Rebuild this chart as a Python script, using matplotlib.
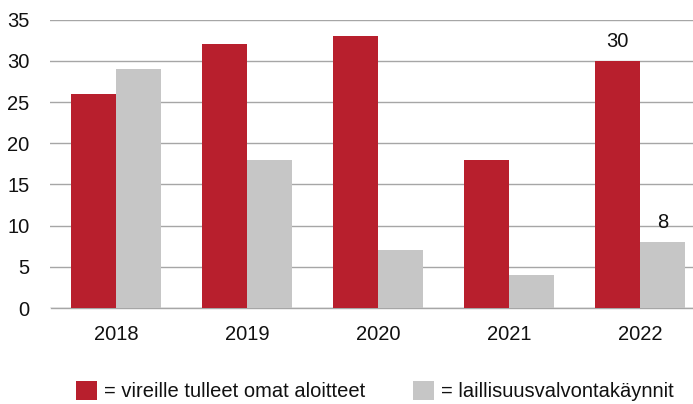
import matplotlib
matplotlib.use("Agg")
import matplotlib.pyplot as plt
import numpy as np
from matplotlib.patches import Patch

years = ["2018", "2019", "2020", "2021", "2022"]
omat = [26, 32, 33, 18, 30]
valvonta = [29, 18, 7, 4, 8]
label_omat = ["", "", "", "", "30"]
label_valvonta = ["", "", "", "", "8"]
series_names = ["= vireille tulleet omat aloitteet", "= laillisuusvalvontakäynnit"]

RED = "#B81F2D"
GRAY = "#C6C6C6"

plt.rcParams['font.family'] = ['Liberation Sans', 'DejaVu Sans']

fig = plt.figure(figsize=(6.93, 4.04), dpi=100)
ax = fig.add_axes([50.5/693, (404-308)/404, 1 - 50.5/693, (308-19.7)/404])

x = np.arange(len(years))
w = 0.345
b1 = ax.bar(x - w/2, omat, width=w, color=RED, zorder=3)
b2 = ax.bar(x + w/2, valvonta, width=w, color=GRAY, zorder=3)
ax.bar_label(b1, labels=label_omat, padding=7, fontsize=14.5, color='#111111')
ax.bar_label(b2, labels=label_valvonta, padding=7, fontsize=14.5, color='#111111')

ax.set_ylim(0, 35)
ax.set_xlim(-0.5, 4.405)
ax.set_yticks(range(0, 36, 5))
ax.set_xticks(x)
ax.set_xticklabels(years)
ax.tick_params(axis='both', length=0, labelsize=14.5, colors='#111111')
ax.tick_params(axis='y', pad=15)
ax.tick_params(axis='x', pad=12)
ax.yaxis.grid(True, color='#A6A6A6', linewidth=1.0, zorder=0)
for s in ['top', 'right', 'left']:
    ax.spines[s].set_visible(False)
ax.spines['bottom'].set_color('#A6A6A6')
ax.spines['bottom'].set_linewidth(1.0)

handles = [Patch(facecolor=RED), Patch(facecolor=GRAY)]
fig.legend(handles, series_names, loc='center', bbox_to_anchor=(0.541, 0.032),
           ncol=2, frameon=False, fontsize=14.5, handlelength=1.05, handleheight=1.1,
           handletextpad=0.35, columnspacing=2.35, labelcolor='#111111')

fig.savefig("out.png", dpi=100)
